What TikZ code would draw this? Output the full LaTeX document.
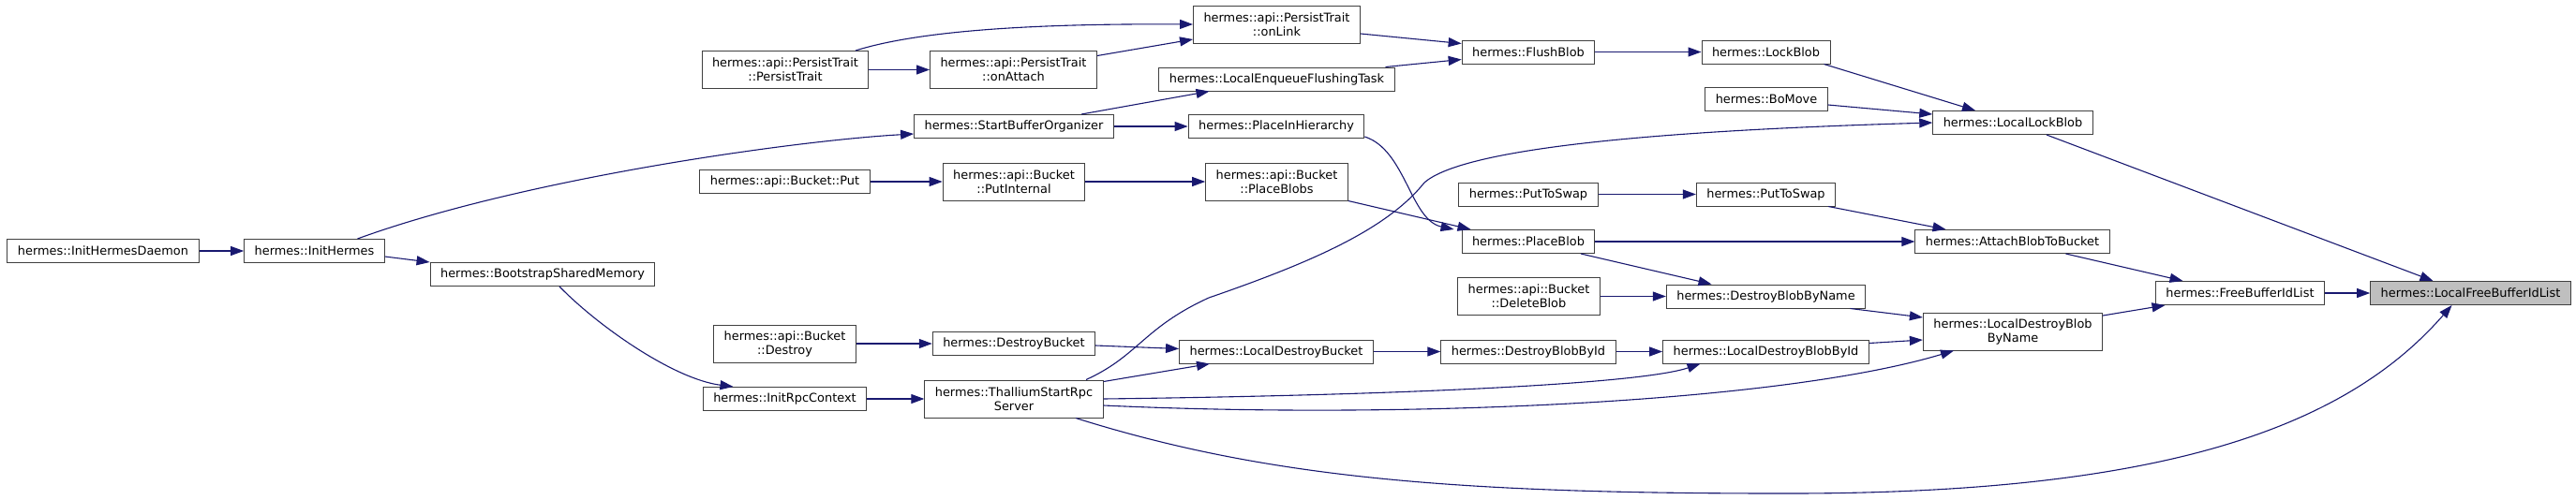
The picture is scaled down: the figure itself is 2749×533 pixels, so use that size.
\documentclass[tikz,border=0pt]{standalone}
\usepackage{fontspec}
\setmainfont{DejaVu Sans}
\usetikzlibrary{arrows.meta}
\definecolor{edgeblue}{HTML}{191970}
\definecolor{boxgray}{HTML}{404040}
\tikzset{
  fn/.style={draw=boxgray, fill=white, line width=1pt, inner xsep=11pt, inner ysep=2pt,
    minimum height=25pt, align=center, font=\fontsize{12.9}{15}\selectfont},
  fntwo/.style={fn, minimum height=40pt},
  call/.style={draw=edgeblue, line width=1.1pt, -{Triangle[length=14pt,width=10pt]}}
}
\begin{document}
\begin{tikzpicture}[x=1pt,y=-1pt]
\useasboundingbox (0,0) rectangle (2749,533);
% functions, one column after the other
\node[fn] (daemon) at (110,268) {hermes::InitHermesDaemon};
\node[fn] (initH) at (335.5,268) {hermes::InitHermes};
\node[fn] (bsm) at (579,293) {hermes::BootstrapSharedMemory};
\node[fntwo] (ptpt) at (838,74.5) {hermes::api::PersistTrait\\::PersistTrait};
\node[fn] (put) at (837.5,194) {hermes::api::Bucket::Put};
\node[fntwo] (destroy) at (837.5,367) {hermes::api::Bucket\\::Destroy};
\node[fn] (initrpc) at (837.5,426) {hermes::InitRpcContext};
\node[fntwo] (onattach) at (1081.5,74.5) {hermes::api::PersistTrait\\::onAttach};
\node[fn] (sbo) at (1082,135) {hermes::StartBufferOrganizer};
\node[fntwo] (putint) at (1082,194) {hermes::api::Bucket\\::PutInternal};
\node[fn] (destroybucket) at (1082,367) {hermes::DestroyBucket};
\node[fntwo] (thallium) at (1082,426) {hermes::ThalliumStartRpc\\Server};
\node[fntwo] (onlink) at (1362.5,26) {hermes::api::PersistTrait\\::onLink};
\node[fn] (enqueue) at (1362.5,84.5) {hermes::LocalEnqueueFlushingTask};
\node[fn] (pih) at (1362,135) {hermes::PlaceInHierarchy};
\node[fntwo] (placeblobs) at (1362.5,194) {hermes::api::Bucket\\::PlaceBlobs};
\node[fn] (ldbucket) at (1362,375.5) {hermes::LocalDestroyBucket};
\node[fn] (flushblob) at (1631,55.5) {hermes::FlushBlob};
\node[fn] (swapa) at (1631,207.5) {hermes::PutToSwap};
\node[fn] (placeblob) at (1631,258) {hermes::PlaceBlob};
\node[fntwo] (deleteblob) at (1631.5,316.5) {hermes::api::Bucket\\::DeleteBlob};
\node[fn] (dbbid) at (1631,375.5) {hermes::DestroyBlobById};
\node[fn] (lockblob) at (1884.5,55.5) {hermes::LockBlob};
\node[fn] (bomove) at (1885,106) {hermes::BoMove};
\node[fn] (swapb) at (1884.5,207.5) {hermes::PutToSwap};
\node[fn] (dbbn) at (1884.5,316.5) {hermes::DestroyBlobByName};
\node[fn] (ldbbid) at (1884.5,375.5) {hermes::LocalDestroyBlobById};
\node[fn] (locallock) at (2148,131) {hermes::LocalLockBlob};
\node[fn] (attach) at (2147.5,258) {hermes::AttachBlobToBucket};
\node[fntwo] (ldbbn) at (2148,354) {hermes::LocalDestroyBlob\\ByName};
\node[fn] (freebuf) at (2390.5,313) {hermes::FreeBufferIdList};
\node[fn, fill={rgb,255:red,191;green,191;blue,191}] (lfree) at (2636.5,313) {hermes::LocalFreeBufferIdList};
% calls
\draw[call] (daemon.east) -- (initH.west);
\draw[call] ([yshift=-6pt]initH.east) -- (bsm.north west);
\draw[call] ([xshift=46pt]initH.north) .. controls (560,190) and (850,150) .. ([yshift=-8pt]sbo.west);
\draw[call] ([xshift=18pt]bsm.south) .. controls (640,350) and (720,405) .. ([xshift=-55pt]initrpc.north);
\draw[call] (ptpt.east) -- (onattach.west);
\draw[call] ([xshift=75pt]ptpt.north) .. controls (980,33) and (1100,25) .. (onlink.west);
\draw[call] ([yshift=15pt]onattach.east) -- ([yshift=-16pt]onlink.west);
\draw[call] ([yshift=-10pt]onlink.east) -- ([yshift=9pt]flushblob.west);
\draw[call] ([xshift=116pt]enqueue.north) -- ([yshift=-8pt]flushblob.west);
\draw[call] ([xshift=72pt]sbo.north) -- ([xshift=-72pt]enqueue.south);
\draw[call] (sbo.east) -- (pih.west);
\draw[call] ([yshift=2pt]pih.south east) .. controls (1500,160) and (1505,235) .. ([xshift=-8pt]placeblob.north west);
\draw[call] (put.east) -- (putint.west);
\draw[call] (putint.east) -- (placeblobs.west);
\draw[call] (placeblobs.south east) -- ([xshift=10pt]placeblob.north west);
\draw[call] (flushblob.east) -- (lockblob.west);
\draw[call] ([xshift=-7pt]lockblob.south east) -- ([xshift=-40pt]locallock.north);
\draw[call] ([yshift=-6pt]bomove.east) -- ([yshift=9pt]locallock.west);
\draw[call] ([xshift=77pt]thallium.north) .. controls (1215,380) and (1220,350) .. (1290,318)
  .. controls (1400,280) and (1480,245) .. (1520,195)
  .. controls (1560,160) and (1750,140) .. (locallock.west);
\draw[call] (swapa.east) -- (swapb.west);
\draw[call] ([xshift=-8pt]swapb.south east) -- ([xshift=-71pt]attach.north);
\draw[call] (placeblob.east) -- (attach.west);
\draw[call] ([xshift=56pt]placeblob.south) -- ([xshift=-58pt]dbbn.north);
\draw[call] (deleteblob.east) -- (dbbn.west);
\draw[call] ([xshift=90pt]dbbn.south) -- ([yshift=15pt]ldbbn.west);
\draw[call] (destroy.east) -- (destroybucket.west);
\draw[call] ([yshift=-2pt]destroybucket.east) -- ([yshift=3pt]ldbucket.west);
\draw[call] (ldbucket.east) -- (dbbid.west);
\draw[call] (dbbid.east) -- (ldbbid.west);
\draw[call] ([yshift=9pt]ldbbid.east) -- ([yshift=-9pt]ldbbn.west);
\draw[call] (initrpc.east) -- (thallium.west);
\draw[call] ([yshift=-2pt]thallium.north east) -- ([xshift=-71pt]ldbucket.south);
\draw[call] (thallium.east) .. controls (1500,422) and (1750,410) .. ([xshift=-70pt]ldbbid.south);
\draw[call] ([yshift=-7pt]thallium.east) .. controls (1500,448) and (1900,430) .. ([xshift=-63pt]ldbbn.south);
\draw[call] ([xshift=66pt]thallium.south) .. controls (1350,510) and (1550,527) .. (1900,527)
  .. controls (2300,528) and (2500,460) .. ([xshift=-20pt]lfree.south);
\draw[call] ([xshift=36pt]locallock.south) -- ([xshift=-40pt]lfree.north);
\draw[call] ([xshift=57pt]attach.south) -- ([xshift=-61pt]freebuf.north);
\draw[call] ([yshift=17pt]ldbbn.east) -- ([xshift=-80pt]freebuf.south);
\draw[call] (freebuf.east) -- (lfree.west);
\end{tikzpicture}
\end{document}
